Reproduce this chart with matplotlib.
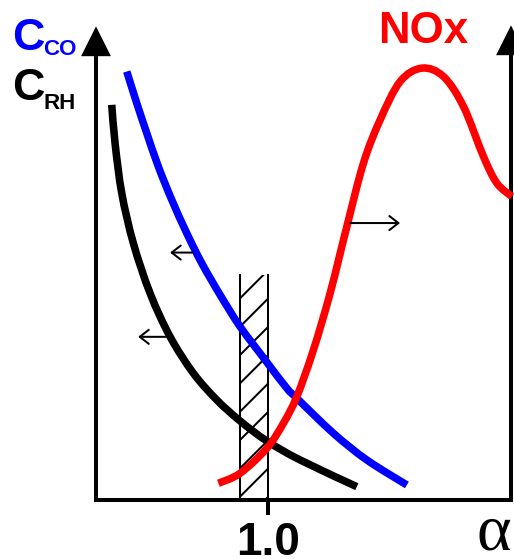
import matplotlib
matplotlib.use("Agg")
import matplotlib.pyplot as plt
from matplotlib.patches import Rectangle, PathPatch
from matplotlib.path import Path

# ---- data (alpha on x, relative concentration on y) ----
co_alpha = [0.4954, 0.5311, 0.5668, 0.6082, 0.6561, 0.7096, 0.7632, 0.8286, 0.9000, 0.9893,
            1.0668, 1.1025, 1.2332, 1.3525, 1.4954]
co_conc = [0.9113, 0.8440, 0.7802, 0.7091, 0.6383, 0.5674, 0.5036, 0.4362, 0.3687, 0.2979,
           0.2377, 0.2164, 0.1419, 0.0851, 0.0319]

rh_alpha = [0.4418, 0.4536, 0.4775, 0.5189, 0.5786, 0.6500, 0.7332, 0.8168, 0.9000, 0.9954,
            1.1143, 1.3168]
rh_conc = [0.8404, 0.7589, 0.6526, 0.5462, 0.4398, 0.3474, 0.2696, 0.2128, 0.1681, 0.1255,
           0.0851, 0.0283]

nox_alpha = [0.8225, 0.9000, 0.9954, 1.0546, 1.1025, 1.1618, 1.2214, 1.2811, 1.3404, 1.4000,
             1.4714, 1.5489, 1.6261, 1.6975, 1.7689, 1.8168, 1.8704]
nox_conc = [0.0355, 0.0568, 0.1100, 0.1632, 0.2198, 0.3191, 0.4398, 0.5815, 0.7164, 0.8085,
            0.8900, 0.9185, 0.9006, 0.8368, 0.7304, 0.6738, 0.6453]

band = (0.9, 1.0)          # hatched stoichiometric window
band_top = 0.479
xtick_vals = [1.0]
xtick_labels = ["1.0"]

# arrows: (tail_x, head_x, y)
arrow_co = (0.733, 0.650, 0.5262)
arrow_rh = (0.650, 0.536, 0.347)
arrow_nox = (1.293, 1.471, 0.589)

# ---- figure ----
DPI = 170
W, H = 514, 559
plt.rcParams["hatch.linewidth"] = 0.85
plt.rcParams["font.family"] = ["Liberation Sans", "DejaVu Sans"]
fig = plt.figure(figsize=((W + 0.2) / DPI, (H + 0.2) / DPI), dpi=DPI)

def fx(px):
    return px / W

def fy(py):
    return 1 - py / H

ax = fig.add_axes([fx(96), fy(500), fx(511) - fx(96), fy(30) - fy(500)])
ax.set_xlim(0.3857, 1.8679)
ax.set_ylim(0, 1)

spw = 1.7
ax.spines["top"].set_visible(False)
for s in ["left", "right", "bottom"]:
    ax.spines[s].set_linewidth(spw)
    ax.spines[s].set_color("black")
ax.spines["right"].set_bounds(0, 0.955)
ax.spines["left"].set_bounds(0, 0.97)

ax.set_yticks([])
ax.set_xticks(xtick_vals)
ax.set_xticklabels(xtick_labels, fontsize=19.5, fontweight="bold")
ax.tick_params(axis="x", direction="out", length=6.4, width=spw, pad=2.5)

# axis arrow heads
ax.plot([0], [0.975], marker="^", ms=11.4, color="black", transform=ax.transAxes, clip_on=False)
ax.plot([1.0], [0.977], marker="^", ms=11.4, color="black", transform=ax.transAxes, clip_on=False)


def smooth_path(xs, ys):
    """Smooth (Catmull-Rom as cubic Bezier) rendering through the read points."""
    pts = list(zip(xs, ys))
    n = len(pts)
    verts = [pts[0]]
    codes = [Path.MOVETO]
    for i in range(n - 1):
        p0 = pts[i - 1] if i > 0 else pts[i]
        p1 = pts[i]
        p2 = pts[i + 1]
        p3 = pts[i + 2] if i + 2 < n else pts[i + 1]
        c1 = (p1[0] + (p2[0] - p0[0]) / 6, p1[1] + (p2[1] - p0[1]) / 6)
        c2 = (p2[0] - (p3[0] - p1[0]) / 6, p2[1] - (p3[1] - p1[1]) / 6)
        verts += [c1, c2, p2]
        codes += [Path.CURVE4] * 3
    return Path(verts, codes)


lw = 3.2
for xs, ys, col, z in ((co_alpha, co_conc, "#0000ff", 2),
                       (rh_alpha, rh_conc, "black", 2),
                       (nox_alpha, nox_conc, "#ff0000", 3)):
    ax.add_patch(PathPatch(smooth_path(xs, ys), facecolor="none", edgecolor=col, lw=lw,
                           capstyle="butt", joinstyle="round", zorder=z, clip_on=False))

# hatched band
ax.add_patch(Rectangle((band[0], 0), band[1] - band[0], band_top, facecolor="none",
                       edgecolor="black", linewidth=0, hatch="//", zorder=1))
for xb in band:
    ax.plot([xb, xb], [0, band_top], color="black", lw=0.85, zorder=1)

for tx, hx, y in (arrow_co, arrow_rh, arrow_nox):
    ax.annotate("", xy=(hx, y), xytext=(tx, y),
                arrowprops=dict(arrowstyle="->,head_length=0.45,head_width=0.35",
                                lw=0.85, color="black", mutation_scale=8.5,
                                shrinkA=0, shrinkB=0))

# labels
fig.text(fx(12), fy(50), "C", color="#0000ff", fontsize=19, fontweight="bold", ha="left", va="baseline")
fig.text(fx(43), fy(55), "CO", color="#0000ff", fontsize=9.5, fontweight="bold", ha="left", va="baseline")
fig.text(fx(12), fy(100), "C", color="black", fontsize=19, fontweight="bold", ha="left", va="baseline")
fig.text(fx(43), fy(109), "RH", color="black", fontsize=9.5, fontweight="bold", ha="left", va="baseline")
fig.text(fx(378), fy(43), "NOx", color="#ff0000", fontsize=18.6, fontweight="bold", ha="left", va="baseline")
fig.text(fx(494), fy(549), "α", color="black", fontsize=28, family=["Liberation Serif", "DejaVu Serif"],
         ha="center", va="baseline")

fig.savefig("out.png", dpi=DPI)
